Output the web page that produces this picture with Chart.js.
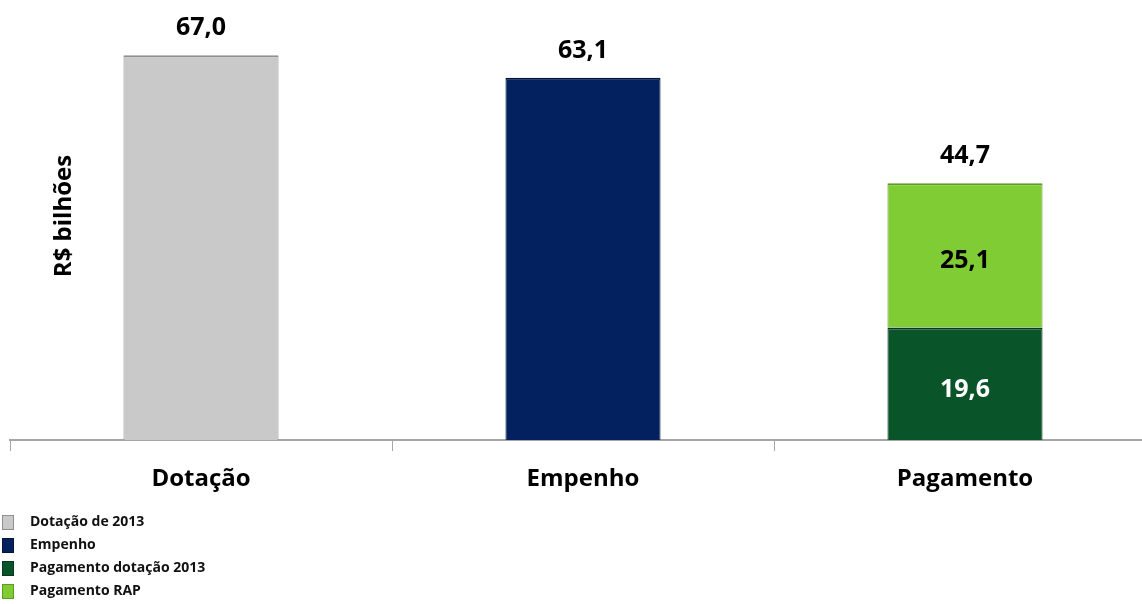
<!DOCTYPE html>
<html>
<head>
<meta charset="utf-8">
<script src="https://cdn.jsdelivr.net/npm/chart.js@4/dist/chart.umd.min.js"></script>
<style>
  html, body { margin: 0; padding: 0; background: #fff; overflow: hidden; }
  #wrap { width: 1142px; height: 604px; overflow: hidden; }
  canvas { display: block; }
</style>
</head>
<body>
<div id="wrap"><canvas id="chart" width="1160" height="604"></canvas></div>
<script>
const categories = ['Dotação', 'Empenho', 'Pagamento'];
const seriesNames = ['Dotação de 2013', 'Empenho', 'Pagamento dotação 2013', 'Pagamento RAP'];
const dotacao2013 = [67.0, null, null];
const empenho = [null, 63.1, null];
const pagamentoDotacao = [null, null, 19.6];
const pagamentoRap = [null, null, 25.1];

const fills = ['#c9c9c9', '#03215f', '#0a5429', '#80cc34'];
const edges = ['#8f8f8f', '#01143d', '#063a1b', '#5d9c22'];
const insideText = ['#000', '#fff', '#fff', '#000'];
const FONT = '"Open Sans", "Liberation Sans", sans-serif';

const fmt = v => v.toFixed(1).replace('.', ',');

const valueLabels = {
  id: 'valueLabels',
  afterDatasetsDraw(chart) {
    const ctx = chart.ctx;
    ctx.save();
    ctx.textAlign = 'center';
    ctx.textBaseline = 'middle';
    ctx.font = 'bold 25px ' + FONT;
    categories.forEach((c, i) => {
      let total = 0, topY = null, segs = [];
      chart.data.datasets.forEach((ds, d) => {
        const v = ds.data[i];
        if (v == null) return;
        const el = chart.getDatasetMeta(d).data[i];
        total += v;
        segs.push({ v, el, d });
        topY = topY == null ? el.y : Math.min(topY, el.y);
      });
      if (!segs.length) return;
      const x = segs[0].el.x;
      ctx.fillStyle = '#000';
      ctx.fillText(fmt(total), x, topY - 27);
      if (segs.length > 1) {
        segs.forEach(s => {
          ctx.fillStyle = insideText[s.d];
          ctx.fillText(fmt(s.v), x, (s.el.y + s.el.base) / 2 + 6);
        });
      }
    });
    ctx.restore();
  }
};

const sideTitleAndLegend = {
  id: 'sideTitleAndLegend',
  afterDraw(chart) {
    const ctx = chart.ctx;
    ctx.save();
    // axis title
    ctx.translate(64, 216);
    ctx.rotate(-Math.PI / 2);
    ctx.textAlign = 'center';
    ctx.textBaseline = 'middle';
    ctx.fillStyle = '#000';
    ctx.font = 'bold 24px ' + FONT;
    ctx.fillText('R$ bilhões', 0, 0);
    ctx.restore();

    // legend, one row per series
    ctx.save();
    ctx.font = 'bold 14px ' + FONT;
    ctx.textBaseline = 'middle';
    ctx.textAlign = 'left';
    seriesNames.forEach((name, k) => {
      const y = 522 + k * 23;
      ctx.fillStyle = fills[k];
      ctx.fillRect(2, y - 7, 12, 15);
      ctx.strokeStyle = edges[k];
      ctx.lineWidth = 1;
      ctx.strokeRect(2.5, y - 6.5, 11, 14);
      ctx.fillStyle = '#111';
      ctx.fillText(name, 30, y);
    });
    ctx.restore();
  }
};

const seriesData = [dotacao2013, empenho, pagamentoDotacao, pagamentoRap];

new Chart(document.getElementById('chart'), {
  type: 'bar',
  data: {
    labels: categories,
    datasets: seriesData.map((data, k) => ({
      label: seriesNames[k],
      data: data,
      backgroundColor: fills[k],
      borderColor: edges[k],
      borderWidth: { top: 2, left: 1, right: 1, bottom: 0 },
      borderSkipped: false,
      barPercentage: 0.406,
      categoryPercentage: 1.0
    }))
  },
  options: {
    responsive: false,
    animation: false,
    layout: { padding: { top: 38, left: 10, right: 4, bottom: 0 } },
    plugins: {
      legend: { display: false },
      tooltip: { enabled: false }
    },
    scales: {
      x: {
        stacked: true,
        afterFit(scale) { scale.height = 164; },
        grid: {
          offset: true,
          drawOnChartArea: false,
          drawTicks: true,
          tickLength: 11,
          color: '#a6a6a6'
        },
        border: { color: '#a6a6a6', width: 2 },
        ticks: {
          color: '#000',
          padding: 14,
          font: { family: FONT, size: 24, weight: 'bold' }
        }
      },
      y: {
        stacked: true,
        display: false,
        min: 0,
        max: 70
      }
    }
  },
  plugins: [valueLabels, sideTitleAndLegend]
});
</script>
</body>
</html>
